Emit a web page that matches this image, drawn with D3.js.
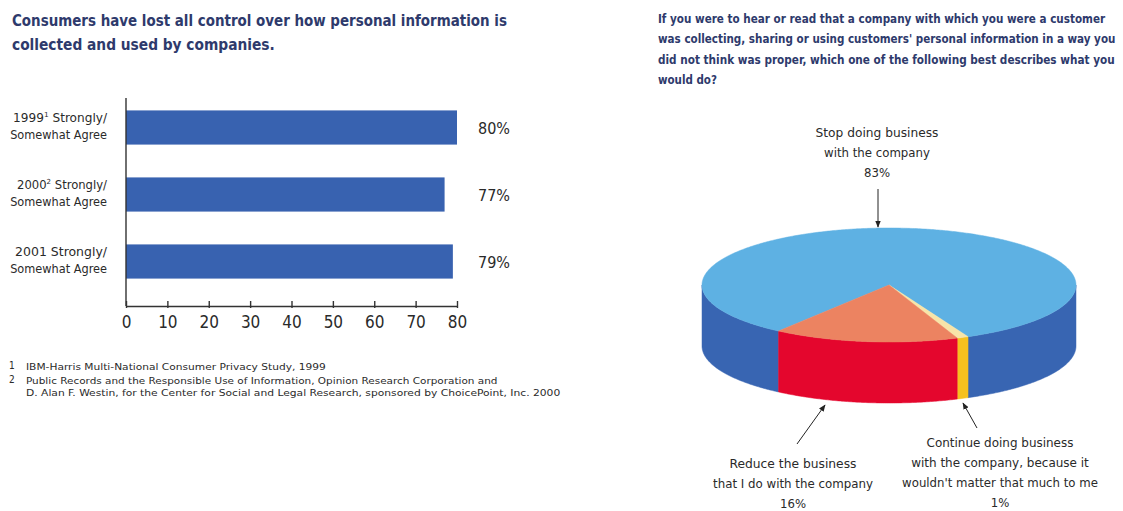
<!DOCTYPE html>
<html>
<head>
<meta charset="utf-8">
<script src="https://cdn.jsdelivr.net/npm/d3@7"></script>
<style>
  html, body { margin: 0; padding: 0; background: #ffffff; }
  svg { display: block; }
  text { font-family: "Liberation Sans Narrow", "Arial Narrow", "DejaVu Sans Condensed", "Roboto Condensed", sans-serif; }
</style>
</head>
<body>
<svg id="chart" width="1123" height="511"></svg>
<script>
// ---- Bar chart data ----
const barTitle = [
  "Consumers have lost all control over how personal information is",
  "collected and used by companies."
];
const categories = ["1999", "2000", "2001"];
const categorySup = ["1", "2", ""];
const agreeValues = [80, 77, 79];
const xTicks = [0, 10, 20, 30, 40, 50, 60, 70, 80];
const footnoteMarks = ["1", "2"];
const footnotes = [
  ["IBM-Harris Multi-National Consumer Privacy Study, 1999"],
  ["Public Records and the Responsible Use of Information, Opinion Research Corporation and",
   "D. Alan F. Westin, for the Center for Social and Legal Research, sponsored by ChoicePoint, Inc. 2000"]
];

// ---- Pie chart data ----
const pieTitle = [
  "If you were to hear or read that a company with which you were a customer",
  "was collecting, sharing or using customers' personal information in a way you",
  "did not think was proper, which one of the following best describes what you",
  "would do?"
];
const pieLabels = [
  ["Stop doing business", "with the company"],
  ["Continue doing business", "with the company, because it", "wouldn't matter that much to me"],
  ["Reduce the business", "that I do with the company"]
];
const pieValues = [83, 1, 16];

const svg = d3.select("#chart");
const navy = "#2e3a6c";
const ink = "#2a2a2a";

// Squeeze a text element horizontally (about its anchor x) to a given width
function fit(sel, w) {
  const node = sel.node();
  const natural = node.getComputedTextLength();
  if (!natural) return;
  const s = w / natural;
  const ax = +sel.attr("x");
  sel.attr("transform", `translate(${ax},0) scale(${s},1) translate(${-ax},0)`);
}

// ================= Bar chart =================
const titleWidths = [495, 263];
barTitle.forEach((t, i) => {
  svg.append("text")
    .attr("x", 12).attr("y", 26 + i * 24)
    .attr("font-size", 15.5).attr("font-weight", "bold")
    .attr("fill", navy)
    .text(t)
    .call(fit, titleWidths[i]);
});

const x = d3.scaleLinear().domain([0, 80]).range([126, 457]);
const y = d3.scaleBand().domain(categories).range([94, 295])
  .paddingInner(0.49).paddingOuter(0.245);
const axisY = 306;

const barG = svg.append("g");
barG.selectAll("rect").data(categories).join("rect")
  .attr("x", x(0))
  .attr("y", d => y(d))
  .attr("width", (d, i) => x(agreeValues[i]) - x(0))
  .attr("height", y.bandwidth())
  .attr("fill", "#3862b0");

// value labels
barG.selectAll("text.val").data(categories).join("text")
  .attr("class", "val")
  .attr("x", 478)
  .attr("y", d => y(d) + y.bandwidth() / 2 + 6)
  .attr("font-size", 16)
  .attr("fill", ink)
  .text((d, i) => agreeValues[i] + "%");

// category labels
const catWidths = [94, 90, 92];
categories.forEach((c, i) => {
  const cy = y(c) + y.bandwidth() / 2;
  const t1 = svg.append("text")
    .attr("x", 107).attr("y", cy - 5)
    .attr("text-anchor", "end")
    .attr("font-size", 11.5).attr("fill", ink);
  t1.append("tspan").text(c);
  if (categorySup[i]) {
    t1.append("tspan").attr("dy", -5).attr("font-size", 7).text(categorySup[i]);
    t1.append("tspan").attr("dy", 5).text(" Strongly/");
  } else {
    t1.append("tspan").text(" Strongly/");
  }
  t1.call(fit, catWidths[i]);
  svg.append("text")
    .attr("x", 107).attr("y", cy + 12)
    .attr("text-anchor", "end")
    .attr("font-size", 11.5).attr("fill", ink)
    .text("Somewhat Agree")
    .call(fit, 97);
});

// vertical axis line
svg.append("line")
  .attr("x1", x(0)).attr("x2", x(0))
  .attr("y1", 98).attr("y2", axisY)
  .attr("stroke", "#333").attr("stroke-width", 1.4);

// bottom axis
const xAxis = svg.append("g")
  .attr("transform", `translate(0,${axisY})`)
  .call(d3.axisBottom(x).tickValues(xTicks).tickSizeOuter(0).tickSizeInner(-5).tickPadding(10));
xAxis.select(".domain").attr("stroke", "#333").attr("stroke-width", 1.4);
xAxis.selectAll(".tick line").attr("y1", 2).attr("y2", -5).attr("stroke", "#333").attr("stroke-width", 1.4);
xAxis.selectAll(".tick text")
  .attr("font-size", 17).attr("fill", ink)
  .attr("font-family", "\"Liberation Sans Narrow\", \"Arial Narrow\", \"DejaVu Sans Condensed\", sans-serif");

// footnotes
const fnWidths = [[300], [472, 535]];
let fnY = 370;
footnotes.forEach((lines, i) => {
  svg.append("text").attr("x", 9).attr("y", fnY - 1)
    .attr("font-size", 10).attr("fill", ink).text(footnoteMarks[i]);
  lines.forEach((l, j) => {
    svg.append("text").attr("x", 26).attr("y", fnY)
      .attr("font-size", 9.5).attr("fill", ink)
      .text(l).call(fit, fnWidths[i][j]);
    fnY += 12.5;
  });
  fnY += 1.5;
});

// ================= Pie chart =================
const pieTitleWidths = [448, 458, 457, 59];
pieTitle.forEach((t, i) => {
  svg.append("text")
    .attr("x", 658).attr("y", 23 + i * 20.5)
    .attr("font-size", 13).attr("font-weight", "bold")
    .attr("fill", navy)
    .text(t)
    .call(fit, pieTitleWidths[i]);
});

const cx = 889, cy = 285, rx = 187, ry = 57, depth = 61;
const startA = 216.2 * Math.PI / 180;
const arcs = d3.pie().sort(null).startAngle(startA).endAngle(startA + 2 * Math.PI)(pieValues);
const topColors = ["#5eb1e3", "#f8e4a8", "#ec8361"];
const sideColors = ["#3865b2", "#f5c11f", "#e4062d"];

const pt = (a, dy) => [cx + rx * Math.sin(a), cy - ry * Math.cos(a) + dy];
const arcPts = (a0, a1, dy) => {
  const n = Math.max(2, Math.ceil(Math.abs(a1 - a0) / 0.01));
  return d3.range(n + 1).map(k => pt(a0 + (a1 - a0) * k / n, dy));
};
const line = d3.line();

const pieG = svg.append("g");
// front walls: visible where the angle lies in [pi/2, 3pi/2] (+2pi k)
arcs.forEach((s, i) => {
  for (let k = 0; k < 3; k++) {
    const lo = Math.PI / 2 + 2 * Math.PI * k, hi = 3 * Math.PI / 2 + 2 * Math.PI * k;
    const a0 = Math.max(s.startAngle, lo), a1 = Math.min(s.endAngle, hi);
    if (a1 > a0) {
      const pts = arcPts(a0, a1, 0).concat(arcPts(a1, a0, depth));
      pieG.append("path").attr("d", line(pts) + "Z")
        .attr("fill", sideColors[i]).attr("stroke", sideColors[i]).attr("stroke-width", 0.5);
    }
  }
});
// top faces
arcs.forEach((s, i) => {
  const pts = [[cx, cy]].concat(arcPts(s.startAngle, s.endAngle, 0));
  pieG.append("path").attr("d", line(pts) + "Z")
    .attr("fill", topColors[i]).attr("stroke", topColors[i]).attr("stroke-width", 0.5);
});

// arrow marker
svg.append("defs").append("marker")
  .attr("id", "ah").attr("viewBox", "0 0 10 10")
  .attr("refX", 9).attr("refY", 5)
  .attr("markerWidth", 7).attr("markerHeight", 7)
  .attr("orient", "auto-start-reverse")
  .append("path").attr("d", "M0,1 L10,5 L0,9 Z").attr("fill", "#222");

// label blocks: [center x, first baseline, line widths], arrow [from, to]
const labelPos = [
  { x: 877, y: 137, w: [123, 106], arrow: [[878, 189], [878, 227]] },
  { x: 1000, y: 447, w: [147, 178, 196], arrow: [[977, 428], [963, 403]] },
  { x: 793, y: 468, w: [127, 160], arrow: [[797, 444], [825, 405]] }
];
pieLabels.forEach((lines, i) => {
  const p = labelPos[i];
  lines.concat([pieValues[i] + "%"]).forEach((l, j) => {
    const t = svg.append("text")
      .attr("x", p.x).attr("y", p.y + j * 20)
      .attr("text-anchor", "middle")
      .attr("font-size", 13).attr("fill", ink)
      .text(l);
    if (j < lines.length) t.call(fit, p.w[j]);
  });
  svg.append("line")
    .attr("x1", p.arrow[0][0]).attr("y1", p.arrow[0][1])
    .attr("x2", p.arrow[1][0]).attr("y2", p.arrow[1][1])
    .attr("stroke", "#222").attr("stroke-width", 1)
    .attr("marker-end", "url(#ah)");
});
</script>
</body>
</html>
